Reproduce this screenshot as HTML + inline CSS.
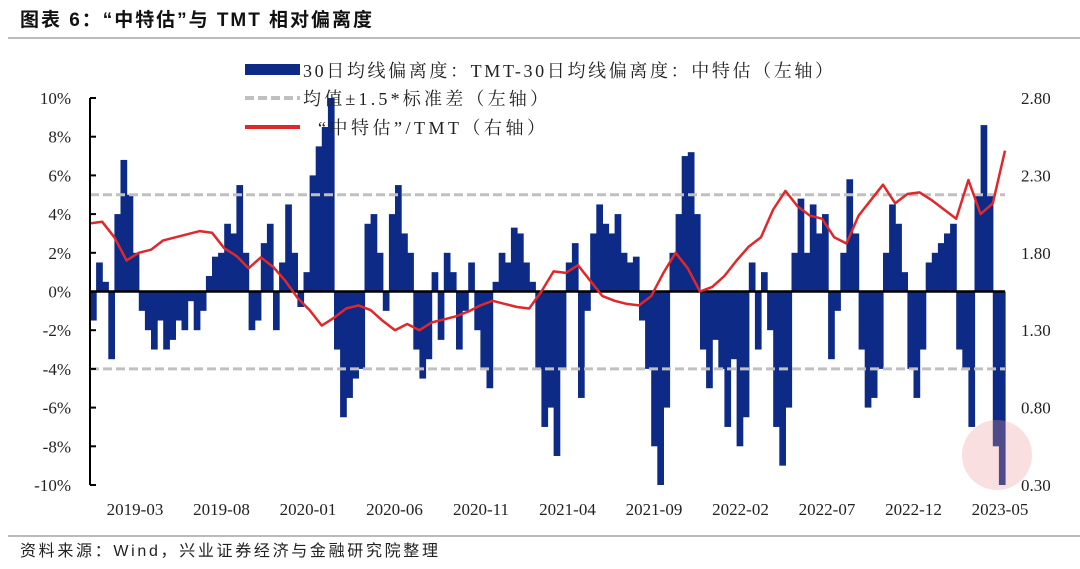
<!DOCTYPE html>
<html><head><meta charset="utf-8">
<style>
body{margin:0;background:#fff;width:1080px;height:569px;overflow:hidden;}
svg{display:block;}
</style></head>
<body>
<svg id="chart" width="1080" height="569" xmlns="http://www.w3.org/2000/svg">
<text x="20" y="26" textLength="352" lengthAdjust="spacing" font-family="'Liberation Sans','Noto Sans CJK SC',sans-serif" font-size="19" font-weight="bold" fill="#111">图表 6：“中特估”与 TMT 相对偏离度</text>
<line x1="8" y1="38" x2="1080" y2="38" stroke="#777" stroke-width="1"/>
<line x1="8" y1="536" x2="1080" y2="536" stroke="#777" stroke-width="1"/>
<text x="20" y="556" textLength="418" lengthAdjust="spacing" font-family="'Liberation Sans','Noto Sans CJK SC',sans-serif" font-size="16" fill="#222">资料来源：Wind，兴业证券经济与金融研究院整理</text>
<g id="plot"></g>
<g id="legend" font-family="'Liberation Serif','Noto Serif CJK SC',serif" font-size="18" fill="#222">
<rect x="245" y="64" width="55" height="11" fill="#0c2a86"/>
<text x="303" y="77" textLength="530" lengthAdjust="spacing">30日均线偏离度：TMT-30日均线偏离度：中特估（左轴）</text>
<line x1="245" y1="98" x2="300" y2="98" stroke="#c0c0c0" stroke-width="4" stroke-dasharray="9,4"/>
<text x="303" y="105" textLength="245" lengthAdjust="spacing">均值±1.5*标准差（左轴）</text>
<line x1="245" y1="127" x2="300" y2="127" stroke="#e0282a" stroke-width="4"/>
<text x="318" y="134" textLength="227" lengthAdjust="spacing">“中特估”/TMT（右轴）</text>
</g>
</svg>
<script>
const deviation=[-1.5,1.5,0.5,-3.5,4,6.8,5,2,-1,-2,-3,-1.5,-3,-2.5,-1.5,-2,-0.5,-2,-1,0.8,1.8,2,3.5,3,5.5,2,-2,-1.5,2.5,3.5,-2,1.5,4.5,2,-0.8,1,6,7.5,8.5,10,-3,-6.5,-5.5,-4.5,-4,3.5,4,2,-1,4,5.5,3,2,-3,-4.5,-3.5,1,-2.5,2,1,-3,-1,1.5,-2,-4,-5,0.5,2,1.5,3.3,3,1.5,0.5,-4,-7,-6,-8.5,-4,1.5,2.5,-5.5,-1,3,4.5,3.5,3,4,2,1.5,1.8,-1.5,-4,-8,-10,-6,2,4,7,7.2,4,-3,-5,-2.5,-4,-7,-3.5,-8,-6.5,1.5,-3,1,-2,-7,-9,-6,2,4.8,2,4.5,3,4,-3.5,-1,2,5.8,3,-3,-6,-5.5,-4,2,4.5,3.5,1,-4,-5.5,-3,1.5,2,2.5,3,3.5,-3,-4,-7,5,8.6,5,-8,-10];
const ratio=[1.99,2.00,1.90,1.75,1.80,1.82,1.88,1.90,1.92,1.94,1.93,1.83,1.78,1.70,1.77,1.71,1.62,1.51,1.43,1.33,1.38,1.44,1.46,1.43,1.36,1.30,1.34,1.30,1.35,1.37,1.39,1.42,1.46,1.49,1.47,1.45,1.44,1.55,1.68,1.67,1.72,1.62,1.52,1.49,1.47,1.46,1.52,1.67,1.80,1.70,1.55,1.58,1.65,1.75,1.84,1.90,2.08,2.20,2.10,2.04,2.02,1.90,1.86,2.04,2.14,2.24,2.12,2.18,2.19,2.14,2.08,2.02,2.27,2.05,2.12,2.46];
const bandValues=[5,-4];
const leftTicks=[10,8,6,4,2,0,-2,-4,-6,-8,-10];
const rightTicks=[2.80,2.30,1.80,1.30,0.80,0.30];
const xLabels=["2019-03","2019-08","2020-01","2020-06","2020-11","2021-04","2021-09","2022-02","2022-07","2022-12","2023-05"];
const X0=90,X1=1005,YT=98,YB=485;
const NS="http://www.w3.org/2000/svg";
const plot=document.getElementById('plot');
function yL(v){return YT+(10-v)/20*(YB-YT);}
function yR(v){return YT+(2.8-v)/2.5*(YB-YT);}
function xBar(i){return X0+i*(X1-X0)/deviation.length;}
function xLine(j){return X0+j*(X1-X0)/(ratio.length-1);}
function xLab(k){return 135+k*86.5;}
function mk(tag,attrs){const e=document.createElementNS(NS,tag);for(const k in attrs)e.setAttribute(k,attrs[k]);plot.appendChild(e);return e;}
const bw=(X1-X0)/deviation.length;
deviation.forEach((v,i)=>{
  const y0=yL(0),y1=yL(v);
  const r=mk('rect',{x:xBar(i),y:Math.min(y0,y1),width:bw+0.6,height:Math.abs(y1-y0),fill:'#0c2a86'});
  
  
});
bandValues.forEach(v=>{
  const l=mk('line',{x1:X0,x2:X1,y1:yL(v),y2:yL(v),stroke:'#c0c0c0','stroke-width':3,'stroke-dasharray':'9,4'});
  
  
});
const zl=mk('line',{x1:X0,x2:X1,y1:yL(0),y2:yL(0),stroke:'#000','stroke-width':2.5});


const pts=ratio.map((v,j)=>xLine(j).toFixed(1)+','+yR(v).toFixed(1)).join(' ');
const pl=mk('polyline',{points:pts,fill:'none',stroke:'#e0282a','stroke-width':2.5,'stroke-linejoin':'round'});


const ax=mk('line',{x1:X0,x2:X0,y1:YT,y2:YB,stroke:'#000','stroke-width':2});


leftTicks.forEach(v=>{
  const t=mk('line',{x1:X0,x2:X0+6,y1:yL(v),y2:yL(v),stroke:'#000','stroke-width':2});
  
  
  const tx=mk('text',{x:71,y:yL(v)+6,'text-anchor':'end','font-family':"'Liberation Serif',serif",'font-size':17,fill:'#222'});
  tx.textContent=v+'%';
  
  
});
rightTicks.forEach(v=>{
  const tx=mk('text',{x:1021,y:yR(v)+6,'font-family':"'Liberation Serif',serif",'font-size':17,fill:'#222'});
  tx.textContent=v.toFixed(2);
  
  
});
xLabels.forEach((s,k)=>{
  const tx=mk('text',{x:xLab(k),y:515,'text-anchor':'middle','font-family':"'Liberation Serif',serif",'font-size':17,fill:'#222'});
  tx.textContent=s;
  
  
});
const c=mk('circle',{cx:997,cy:455,r:35,fill:'rgba(235,150,150,0.3)'});


</script>
</body></html>
